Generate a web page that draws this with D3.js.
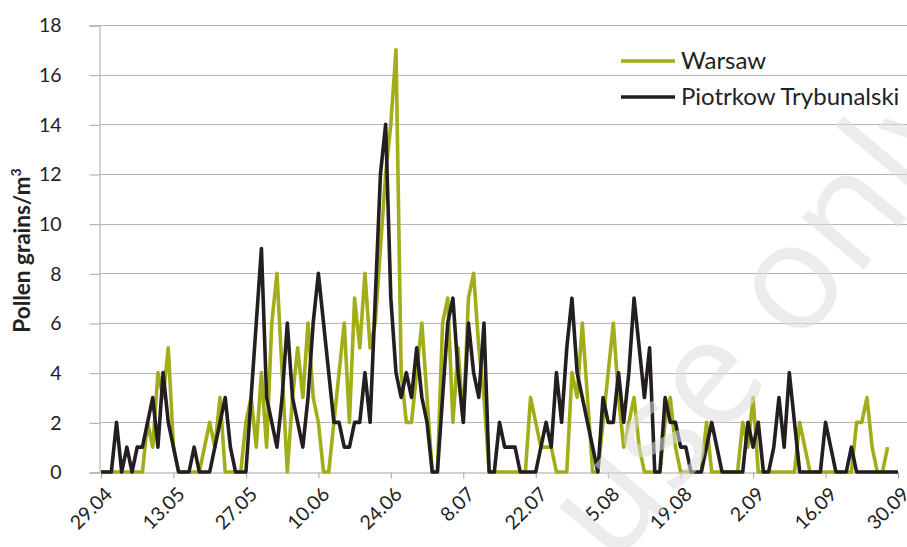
<!DOCTYPE html>
<html>
<head>
<meta charset="utf-8">
<script src="https://cdn.jsdelivr.net/npm/d3@7"></script>
<style>
  body { margin: 0; background: #fff; }
  svg { display: block; font-family: Lato, "Open Sans", sans-serif; }
</style>
</head>
<body>
<svg id="chart" width="907" height="547"></svg>
<script>
// daily counts, 29.04 - 30.09
var warsaw = [
  0,0,0,0,0,0,0,0,0,2, 1,4,3,5,1,0,0,0,0,0,
  1,2,1,3,0,0,0,0,2,3, 1,4,1,6,8,4,0,3,5,3,
  6,3,2,0,0,2,4,6,2,7, 5,8,5,6,9,12,14,17,4,2,
  2,4,6,3,0,0,6,7,2,5, 2,7,8,5,3,0,0,0,0,0,
  0,0,0,3,2,1,1,1,0,0, 0,4,3,6,3,0,0,2,4,6,
  3,1,2,3,1,0,0,0,0,2, 3,1,0,0,0,0,0,2,0,0,
  0,0,0,0,2,1,3,0,0,0, 0,0,0,0,0,2,1,0,0,0,
  0,0,0,0,0,0,2,2,3,1, 0,0,1
];
var piotrkow = [
  0,0,0,2,0,1,0,1,1,2, 3,1,4,2,1,0,0,0,1,0,
  0,0,1,2,3,1,0,0,0,3, 6,9,3,2,1,3,6,3,2,1,
  3,6,8,6,4,2,2,1,1,2, 2,4,2,7,12,14,7,4,3,4,
  3,5,3,2,0,0,3,6,7,4, 2,6,4,3,6,0,0,2,1,1,
  1,0,0,0,0,1,2,1,4,2, 5,7,4,3,2,1,0,3,2,2,
  4,2,4,7,5,3,5,0,0,3, 2,2,1,1,0,0,0,1,2,1,
  0,0,0,0,0,2,1,2,0,0, 1,3,1,4,2,0,0,0,0,0,
  2,1,0,0,0,1,0,0,0,0, 0,0,0,0,0
];
var tickLabels = ["29.04","13.05","27.05","10.06","24.06","8.07","22.07","5.08","19.08","2.09","16.09","30.09"];
var yTicks = [0,2,4,6,8,10,12,14,16,18];

var svg = d3.select("#chart");
var plotLeft = 100, plotRight = 898, plotTop = 25, plotBottom = 472;

var x = d3.scaleLinear().domain([0, 154]).range([plotLeft + 1, plotRight]);
var y = d3.scaleLinear().domain([0, 18]).range([plotBottom, plotTop]);

//gridlines
svg.append("g").selectAll("line")
  .data(yTicks.filter(function(d) { return d > 0; }))
  .enter().append("line")
  .attr("x1", plotLeft).attr("x2", 907)
  .attr("y1", function(d) { return Math.round(y(d)) + 0.5; })
  .attr("y2", function(d) { return Math.round(y(d)) + 0.5; })
  .attr("stroke", "#b5b5b5").attr("stroke-width", 1.2);

//y axis
var yAxis = svg.append("g")
  .attr("transform", "translate(" + (plotLeft - 0.5) + ",0.5)")
  .call(d3.axisLeft(y).tickValues(yTicks).tickSize(10).tickPadding(28));
yAxis.select(".domain").attr("stroke", "#a6a6a6");
yAxis.selectAll(".tick line").attr("stroke", "#a6a6a6");
yAxis.selectAll("text")
  .attr("font-size", 19.5).attr("fill", "#222").attr("font-family", "Lato, sans-serif");

//x axis
var tickIdx = tickLabels.map(function(d, i) { return i * 14; });
var xAxis = svg.append("g")
  .attr("transform", "translate(0," + (plotBottom + 0.5) + ")")
  .call(d3.axisBottom(x).tickValues(tickIdx).tickSize(6).tickFormat(function(d, i) { return tickLabels[i]; }));
xAxis.select(".domain").attr("stroke", "#a6a6a6").attr("stroke-width", 1.2);
xAxis.selectAll(".tick line").attr("stroke", "#a6a6a6");
xAxis.selectAll("text")
  .attr("font-size", 19.5).attr("fill", "#222").attr("font-family", "Lato, sans-serif")
  .attr("text-anchor", "end")
  .attr("dy", null).attr("y", 0)
  .attr("transform", "translate(12,23) rotate(-45)");

//lines
var line = d3.line()
  .x(function(d, i) { return x(i); })
  .y(function(d) { return y(d); });

svg.append("path").datum(warsaw)
  .attr("fill", "none").attr("stroke", "#a2ad1a").attr("stroke-width", 3.6)
  .attr("stroke-linejoin", "round").attr("d", line);
svg.append("path").datum(piotrkow)
  .attr("fill", "none").attr("stroke", "#231f20").attr("stroke-width", 3.6)
  .attr("stroke-linejoin", "round").attr("d", line);

//axis title
svg.append("text")
  .attr("transform", "translate(30," + ((plotTop + plotBottom) / 2 + 2) + ") rotate(-90)")
  .attr("text-anchor", "middle")
  .attr("font-size", 22.5).attr("font-weight", "bold").attr("fill", "#222")
  .attr("font-family", "Lato, sans-serif")
  .html('Pollen grains/m<tspan dy="-9" font-size="14">3</tspan>');

//legend
var legend = [
  { name: "Warsaw", color: "#a2ad1a", yy: 61 },
  { name: "Piotrkow Trybunalski", color: "#231f20", yy: 97 }
];
var lg = svg.append("g").selectAll("g").data(legend).enter().append("g");
lg.append("line")
  .attr("x1", 621).attr("x2", 675)
  .attr("y1", function(d) { return d.yy; }).attr("y2", function(d) { return d.yy; })
  .attr("stroke", function(d) { return d.color; }).attr("stroke-width", 3.6);
lg.append("text")
  .attr("x", 681).attr("y", function(d) { return d.yy + 8; })
  .attr("font-size", 24).attr("fill", "#222").attr("font-family", "Lato, sans-serif")
  .text(function(d) { return d.name; });

//watermark
svg.append("text")
  .attr("transform", "translate(800,345) rotate(-50)")
  .attr("text-anchor", "middle")
  .attr("font-size", 150).attr("font-family", "Open Sans, sans-serif")
  .attr("fill", "#dedede").attr("opacity", 0.55)
  .text("use only");
</script>
</body>
</html>
